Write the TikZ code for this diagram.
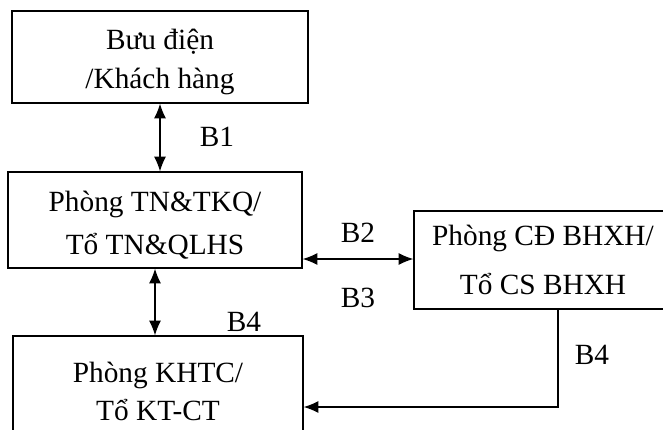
\documentclass[tikz,border=0pt]{standalone}
\usepackage{fontspec}
\setmainfont{Liberation Serif}
\usetikzlibrary{arrows.meta}

\begin{document}
\begin{tikzpicture}[x=0.75pt,y=-0.75pt,
    box/.style={draw,line width=1pt,align=center,inner sep=0pt,font=\fontsize{22}{27}\selectfont},
    lbl/.style={inner sep=0pt,font=\fontsize{22}{27}\selectfont},
    >={Latex[length=11pt,width=9pt]},
    every path/.style={line width=0.9pt}]
        \useasboundingbox (0,0) rectangle (663,429);

        \node[box,minimum width=222pt,minimum height=69pt] (bd) at (160,57) {\rule{0pt}{23pt}Bưu điện\\[2.5pt]/Khách hàng};
        \node[box,minimum width=220.5pt,minimum height=72pt] (tn) at (155,220) {\rule{0pt}{23pt}Phòng TN\&TKQ/\\[5pt]Tổ TN\&QLHS};
        \node[box,minimum width=193.5pt,minimum height=73.5pt] (cs) at (543,260) {Phòng CĐ BHXH/\\[10pt]Tổ CS BHXH};
        \node[box,minimum width=217.5pt,minimum height=82.5pt] (kt) at (158,391) {Phòng KHTC/\\[1.5pt]Tổ KT-CT};

        \node[lbl] (b1) at (217,137) {B1};
        \node[lbl] (b2) at (358,233) {B2};
        \node[lbl] (b3) at (358,298) {B3};
        \node[lbl] (b4a) at (244,322) {B4};
        \node[lbl] (b4b) at (592,355) {B4};

        \coordinate (row) at (0,259);
        \coordinate (turn) at (558,407);

        \draw[<->] (bd.south) -- (tn.north -| bd.south);
        \draw[<->] (tn.east |- row) -- (cs.west |- row);
        \draw[<->] (tn.south) -- (kt.north -| tn.south);
        \draw[->] (cs.south -| turn) -- (turn) -- (kt.east |- turn);
    \end{tikzpicture}
\end{document}
